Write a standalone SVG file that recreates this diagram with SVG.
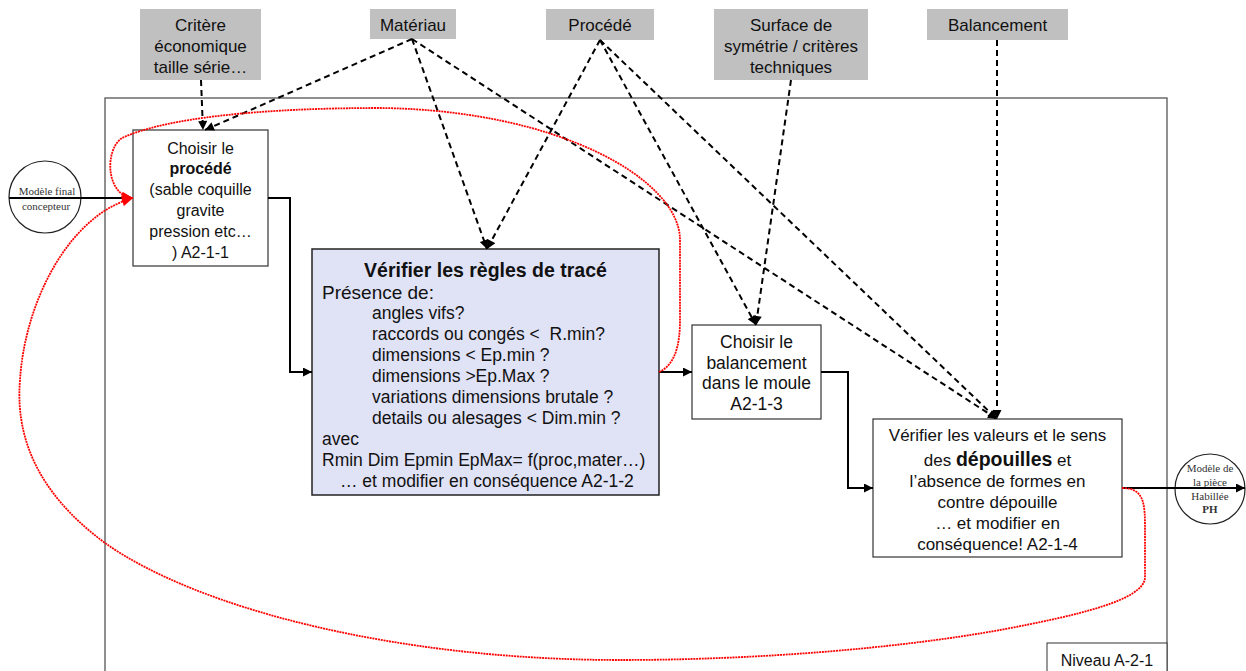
<svg xmlns="http://www.w3.org/2000/svg" width="1246" height="671" viewBox="0 0 1246 671">
<style>
  text { font-family: "Liberation Sans", Arial, sans-serif; fill: #111; }
  .serif { font-family: "Liberation Serif", "Times New Roman", serif; fill: #333; font-size: 11px; }
  .gray rect { fill: #c0c0c0; stroke: none; }
  .gray text { font-size: 17px; text-anchor: middle; }
  .node { fill: #fff; stroke: #333; stroke-width: 1.2; }
  .solid { fill: none; stroke: #000; stroke-width: 2; }
  .dash { fill: none; stroke: #000; stroke-width: 2; stroke-dasharray: 6 4; }
  .red { fill: none; stroke: #f00; stroke-width: 1.8; stroke-dasharray: 2 0.8; }
  .c { text-anchor: middle; }
</style>
<defs>
  <marker id="ah" viewBox="0 0 10 10" refX="10" refY="5" markerWidth="10" markerHeight="9" markerUnits="userSpaceOnUse" orient="auto">
    <path d="M0,0 L10,5 L0,10 z" fill="#000"/>
  </marker>
  <marker id="ahr" viewBox="0 0 10 10" refX="10" refY="5" markerWidth="13" markerHeight="11" markerUnits="userSpaceOnUse" orient="auto">
    <path d="M0,0 L10,5 L0,10 z" fill="#f00"/>
  </marker>
</defs>
<rect width="1246" height="671" fill="#fff"/>

<!-- frame -->
<g id="frame">
  <rect x="105" y="98" width="1062" height="600" fill="none" stroke="#555" stroke-width="1.3"/>
  <rect x="1047" y="643" width="120" height="40" fill="#fff" stroke="#333" stroke-width="1"/>
  <text x="1107" y="666" font-size="16" class="c">Niveau A-2-1</text>
</g>

<!-- controls -->
<g id="critere" class="gray">
  <rect x="140" y="9" width="121" height="71"/>
  <text x="200.5" y="31">Critère</text>
  <text x="200.5" y="52">économique</text>
  <text x="200.5" y="73">taille série…</text>
</g>
<g id="materiau" class="gray">
  <rect x="370" y="9" width="86" height="30"/>
  <text x="413" y="31">Matériau</text>
</g>
<g id="procede" class="gray">
  <rect x="546" y="9" width="108" height="31"/>
  <text x="600" y="31">Procédé</text>
</g>
<g id="surface" class="gray">
  <rect x="714" y="9" width="154" height="71"/>
  <text x="791" y="31">Surface de</text>
  <text x="791" y="52">symétrie / critères</text>
  <text x="791" y="73">techniques</text>
</g>
<g id="balancement" class="gray">
  <rect x="927" y="9" width="141" height="31"/>
  <text x="997.5" y="31">Balancement</text>
</g>

<!-- input / output -->
<g id="modele-final">
  <circle cx="45" cy="197" r="36" fill="#fff" stroke="#222" stroke-width="1.2"/>
  <text class="serif c" x="47" y="195" font-size="12">Modèle final</text>
  <text class="serif c" x="46" y="210" font-size="12">concepteur</text>
</g>
<g id="modele-ph">
  <circle cx="1210" cy="489" r="35" fill="#fff" stroke="#222" stroke-width="1.2"/>
  <text class="serif c" x="1210" y="472">Modèle de</text>
  <text class="serif c" x="1210" y="486">la pièce</text>
  <text class="serif c" x="1210" y="500">Habillée</text>
  <text class="serif c" x="1210" y="513" font-weight="bold">PH</text>
</g>

<!-- nodes -->
<g id="a2-1-1">
  <rect class="node" x="133" y="130" width="135" height="136"/>
  <g font-size="16">
    <text class="c" x="200.5" y="154">Choisir le</text>
    <text class="c" x="200.5" y="174" font-weight="bold">procédé</text>
    <text class="c" x="200.5" y="195">(sable coquille</text>
    <text class="c" x="200.5" y="216">gravite</text>
    <text class="c" x="200.5" y="237">pression etc…</text>
    <text class="c" x="200.5" y="258">) A2-1-1</text>
  </g>
</g>

<g id="a2-1-2">
  <rect x="312" y="249" width="347" height="246" fill="#e0e2f6" stroke="#222" stroke-width="1.5"/>
  <text class="c" x="485.5" y="277" font-size="19.5" font-weight="bold">Vérifier les règles de tracé</text>
  <text x="322" y="299" font-size="19">Présence de:</text>
  <g font-size="17.5">
    <text x="372" y="319">angles vifs?</text>
    <text x="372" y="340" xml:space="preserve">raccords ou congés &lt;  R.min?</text>
    <text x="372" y="361">dimensions &lt; Ep.min ?</text>
    <text x="372" y="382">dimensions &gt;Ep.Max ?</text>
    <text x="372" y="403">variations dimensions brutale ?</text>
    <text x="372" y="424">details ou alesages &lt; Dim.min ?</text>
    <text x="322" y="445">avec</text>
    <text x="322" y="466">Rmin Dim Epmin EpMax= f(proc,mater…)</text>
    <text x="340" y="487">… et modifier en conséquence A2-1-2</text>
  </g>
</g>

<g id="a2-1-3">
  <rect class="node" x="692" y="325" width="129" height="94"/>
  <g font-size="17.5">
    <text class="c" x="756.5" y="348">Choisir le</text>
    <text class="c" x="756.5" y="369">balancement</text>
    <text class="c" x="756.5" y="389">dans le moule</text>
    <text class="c" x="756.5" y="410">A2-1-3</text>
  </g>
</g>

<g id="a2-1-4">
  <rect class="node" x="873" y="419" width="249" height="138"/>
  <g font-size="17">
    <text class="c" x="997.5" y="441">Vérifier les valeurs et le sens</text>
    <text class="c" x="997.5" y="466">des <tspan font-weight="bold" font-size="19.5">dépouilles</tspan> et</text>
    <text class="c" x="997.5" y="487">l’absence de formes en</text>
    <text class="c" x="997.5" y="508">contre dépouille</text>
    <text class="c" x="997.5" y="529">… et modifier en</text>
    <text class="c" x="997.5" y="550">conséquence! A2-1-4</text>
  </g>
</g>

<!-- connectors -->
<g id="connectors">
  <!-- main flow -->
  <path class="solid" d="M9,198 H133" marker-end="url(#ah)"/>
  <path class="solid" d="M268,198 H290 V372 H312" marker-end="url(#ah)"/>
  <path class="solid" d="M659,372 H692" marker-end="url(#ah)"/>
  <path class="solid" d="M821,372 H848 V488 H873" marker-end="url(#ah)"/>
  <path class="solid" d="M1122,488 H1245" marker-end="url(#ah)"/>

  <!-- controls -->
  <path class="dash" d="M201,80 L203,130" marker-end="url(#ah)"/>
  <path class="dash" d="M412,39 L205,130" marker-end="url(#ah)"/>
  <path class="dash" d="M412,39 L487,249" marker-end="url(#ah)"/>
  <path class="dash" d="M412,39 L997,419" marker-end="url(#ah)"/>
  <path class="dash" d="M600,40 L487,249" marker-end="url(#ah)"/>
  <path class="dash" d="M600,40 L756,325" marker-end="url(#ah)"/>
  <path class="dash" d="M600,40 L997,419" marker-end="url(#ah)"/>
  <path class="dash" d="M791,80 L756,325" marker-end="url(#ah)"/>
  <path class="dash" d="M997,40 L997,419" marker-end="url(#ah)"/>

  <!-- feedback loops -->
  <path class="red" d="M659,372 C675,365 680,345 680,320 L680,240 C680,180 560,110 380,108 C260,108 165,118 122,138 C104,150 106,196 133,198" marker-end="url(#ahr)"/>
  <path class="red" d="M1122,488 C1145,488 1145,505 1145,530 L1145,578 C1143,600 1080,615 1000,630 C900,648 760,660 620,660 C400,660 200,610 105,543 C40,495 15,440 20,380 C25,300 70,215 133,198" marker-end="url(#ahr)"/>
</g>
</svg>
